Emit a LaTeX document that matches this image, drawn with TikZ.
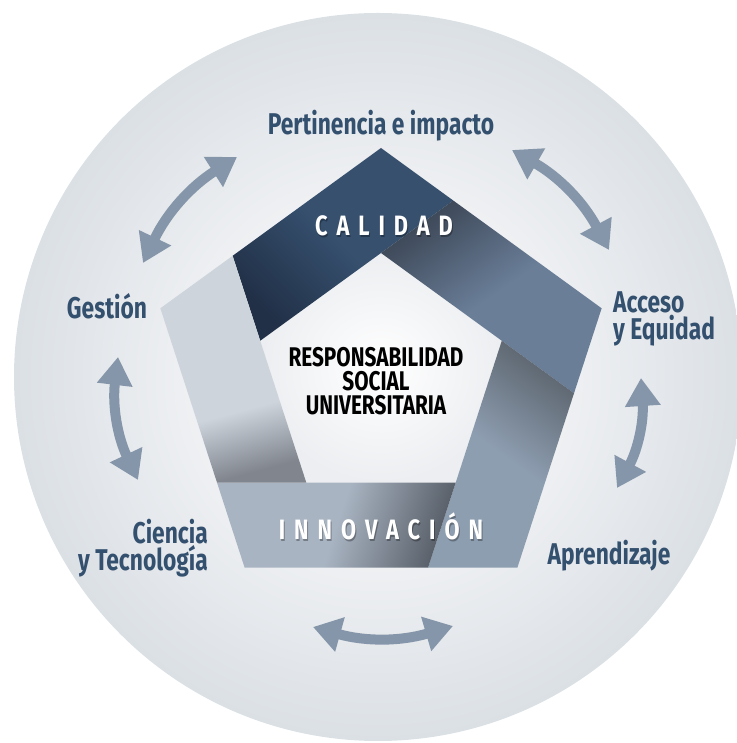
\documentclass[tikz,border=0pt]{standalone}
\usepackage{fontspec}
\usepackage{tikz}
\usetikzlibrary{arrows.meta,calc}

\newfontfamily\dinfont{Fira Sans}[FakeStretch=0.76]
\newfontfamily\dinnarrow{Fira Sans}[FakeStretch=0.77]
\newfontfamily\dinspaced{Fira Sans}[FakeStretch=0.78,LetterSpace=32]

\definecolor{labelblue}{HTML}{34506F}
\definecolor{arrowgray}{HTML}{8596AA}
\definecolor{navy}{HTML}{36506E}
\definecolor{navydark}{HTML}{213047}
\definecolor{slate}{HTML}{6A7E98}
\definecolor{slatedark}{HTML}{3E4959}
\definecolor{steel}{HTML}{8E9EB1}
\definecolor{steeldark}{HTML}{5E6771}
\definecolor{mist}{HTML}{A9B4C2}
\definecolor{mistdark}{HTML}{5A616B}
\definecolor{pale}{HTML}{CDD4DC}
\definecolor{paledark}{HTML}{80858E}
\definecolor{fieldgray}{HTML}{ECEEF1}
\definecolor{discin}{HTML}{F3F4F6}
\definecolor{discout}{HTML}{DBE0E5}

\pgfdeclareradialshading{disc}{\pgfpoint{0bp}{0bp}}{color(0bp)=(discin); color(10bp)=(discin); color(25bp)=(discout); color(50bp)=(discout)}
\pgfdeclareverticalshading{palefold}{100bp}{color(0bp)=(paledark); color(25bp)=(paledark); color(40bp)=(pale); color(100bp)=(pale)}

\tikzset{
  bigtip/.tip={Triangle[width=34pt,length=28pt]},
  twoway/.style={draw=arrowgray, line width=10pt, bigtip-bigtip},
  topic/.style={font=\dinfont\bfseries\fontsize{30}{27}\selectfont, text=labelblue, inner sep=0pt},
  core/.style={font=\dinnarrow\bfseries\fontsize{27}{24}\selectfont, text=black, align=center, inner sep=0pt},
  strip/.style={font=\dinspaced\bfseries\fontsize{28}{28}\selectfont, text=white, inner sep=0pt},
  stripshadow/.style={strip, text=black, opacity=0.3},
}

\begin{document}
\begin{tikzpicture}[x=1pt, y=1pt]
  \useasboundingbox (0,0) rectangle (736,743);

  % backdrop disc
  \shade[shading=disc] (378,366) circle (364);

  % pentagon corners: outer, inner and fold points
  \coordinate (C) at (381,363);
  \foreach \k/\a in {1/90,2/18,3/-54,4/-126,5/162}{
    \coordinate (O\k) at ($(C)+(\a:232)$);
    \coordinate (I\k) at ($(C)+(\a:127)$);
  }
  \foreach \k/\p in {1/5,2/1,3/2,4/3,5/4}
    \coordinate (Q\k) at ($(I\p)!1.598!(I\k)$);

  % inner field
  \shade[inner color=white, outer color=fieldgray] (I1) -- (I2) -- (I3) -- (I4) -- (I5) -- cycle;

  % the five folded bands
  \shade[top color=navy, bottom color=navydark, middle color=navy, shading angle=-45]
    (Q5) -- (O1) -- (Q1) -- (I1) -- (I5) -- cycle; % calidad
  \shade[top color=slate, bottom color=slatedark, middle color=slate, shading angle=-145]
    (Q1) -- (O2) -- (Q2) -- (I2) -- (I1) -- cycle;
  \shade[top color=steel, bottom color=steeldark, middle color=steel, shading angle=144]
    (Q2) -- (O3) -- (Q3) -- (I3) -- (I2) -- cycle;
  \shade[top color=mist, bottom color=mistdark, middle color=mist, shading angle=72]
    (Q3) -- (O4) -- (Q4) -- (I4) -- (I3) -- cycle; % innovacion
  \shade[shading=palefold, shading angle=15]
    (Q4) -- (O5) -- (Q5) -- (I5) -- (I4) -- cycle;

  % band titles
  \node[stripshadow] (calshadow) at (385,515) {CALIDAD};
  \node[strip] (cal) at (384,517) {CALIDAD};
  \node[stripshadow] (innshadow) at (382,215) {INNOVACIÓN};
  \node[strip] (inn) at (381,217) {INNOVACIÓN};

  \node[core] (rsu) at (376,362) {RESPONSABILIDAD\\SOCIAL\\UNIVERSITARIA};

  % outer topics
  \node[topic] (pert) at (381,617) {Pertinencia e impacto};
  \node[topic] (gest) at (107,437) {Gestión};
  \node[topic, anchor=west, align=left] (acc) at (613,424) {Acceso\\y Equidad};
  \node[topic, anchor=east, align=right] (cien) at (208,195) {Ciencia\\y Tecnología};
  \node[topic] (apr) at (609,187) {Aprendizaje};

  % two-way arrows between topics
  \coordinate (tl1) at (143,480); \coordinate (tl2) at (237,586);
  \coordinate (tr1) at (512,593); \coordinate (tr2) at (609,493);
  \coordinate (rt1) at (641,365); \coordinate (rt2) at (617,255);
  \coordinate (bt1) at (453,117); \coordinate (bt2) at (313,116);
  \coordinate (lt1) at (138,263); \coordinate (lt2) at (118,386);
  \draw[twoway] (tl1) to[bend left=16] (tl2);
  \draw[twoway] (tr1) to[bend left=16] (tr2);
  \draw[twoway] (rt1) to[bend left=16] (rt2);
  \draw[twoway] (bt1) to[bend left=16] (bt2);
  \draw[twoway] (lt1) to[bend left=16] (lt2);

\end{tikzpicture}
\end{document}
